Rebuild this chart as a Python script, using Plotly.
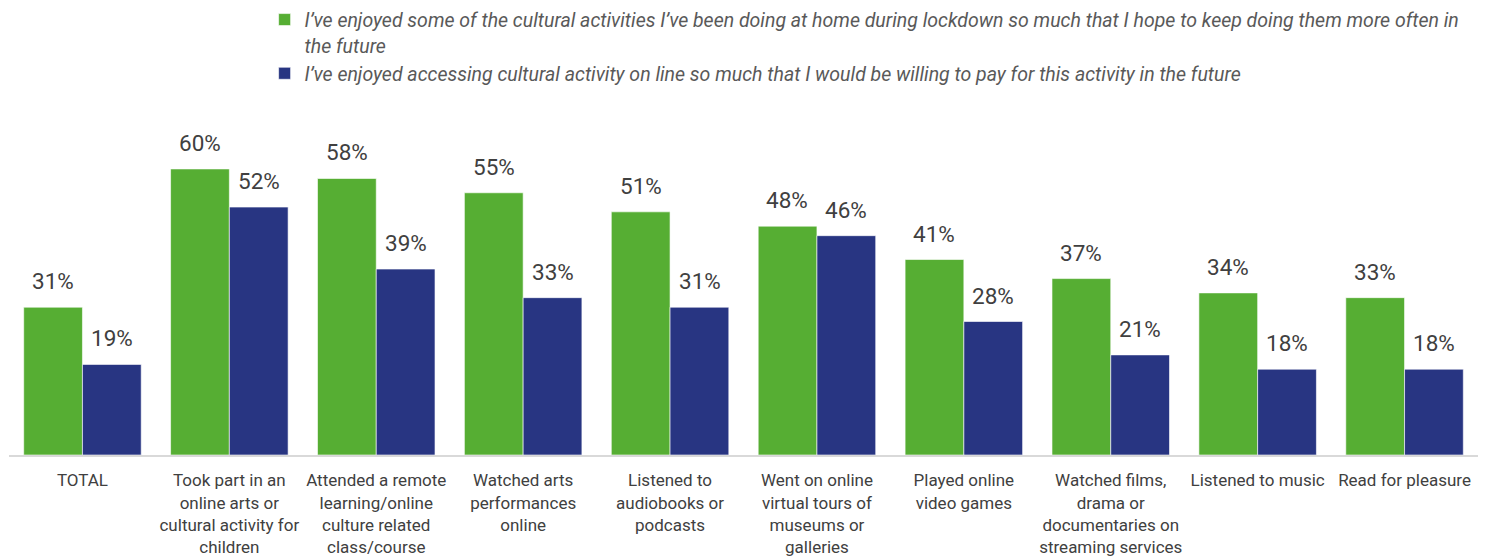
import plotly.graph_objects as go

categories = [
    "TOTAL",
    "Took part in an<br>online arts or<br>cultural activity for<br>children",
    "Attended a remote<br>learning/online<br>culture related<br>class/course",
    "Watched arts<br>performances<br>online",
    "Listened to<br>audiobooks or<br>podcasts",
    "Went on online<br>virtual tours of<br>museums or<br>galleries",
    "Played online<br>video games",
    "Watched films,<br>drama or<br>documentaries on<br>streaming services",
    "Listened to music",
    "Read for pleasure",
]
keep_doing = [31, 60, 58, 55, 51, 48, 41, 37, 34, 33]
willing_to_pay = [19, 52, 39, 33, 31, 46, 28, 21, 18, 18]

name_keep = ("I\u2019ve enjoyed some of the cultural activities I\u2019ve been doing at home during lockdown "
             "so much that I hope to keep doing them more often in<br>the future")
name_pay = ("I\u2019ve enjoyed accessing cultural activity on line so much that I would be willing to pay "
            "for this activity in the future")

GREEN = "#56AE33"
BLUE = "#283582"
FONT = "Roboto, sans-serif"
TEXT = "#404040"

fig = go.Figure()
fig.add_trace(go.Bar(x=categories, y=keep_doing, name=name_keep, marker_color=GREEN,
                     marker_line=dict(color="rgba(255,255,255,0.6)", width=1)))
fig.add_trace(go.Bar(x=categories, y=willing_to_pay, name=name_pay, marker_color=BLUE,
                     marker_line=dict(color="rgba(255,255,255,0.6)", width=1)))

# value labels above each bar
for cat, g, b in zip(categories, keep_doing, willing_to_pay):
    for val, shift in ((g, -29.5), (b, 29.5)):
        fig.add_annotation(x=cat, y=val, text=f"{val}%", showarrow=False,
                           xshift=shift, yshift=26, yanchor="middle",
                           font=dict(family=FONT, size=22.5, color=TEXT))

fig.update_layout(
    width=1499, height=556,
    margin=dict(l=9, r=21, t=147, b=101, autoexpand=False),
    barmode="group", bargap=0.2, bargroupgap=0,
    plot_bgcolor="white", paper_bgcolor="white",
    font=dict(family=FONT, color=TEXT),
    showlegend=True,
    legend=dict(x=0.174, y=1.476, xanchor="left", yanchor="top", valign="top",
                font=dict(family=FONT, size=19.5, color="#595959", style="italic"),
                itemwidth=30, tracegroupgap=0, bgcolor="rgba(0,0,0,0)"),
    xaxis=dict(showline=True, linecolor="#D9D9D9", linewidth=2, ticks="",
               ticklabelstandoff=9, automargin=False,
               tickfont=dict(family=FONT, size=17, color=TEXT), tickangle=0),
    yaxis=dict(range=[0, 64.6], visible=False, showgrid=False, zeroline=False),
)

fig.write_html("out.html")
